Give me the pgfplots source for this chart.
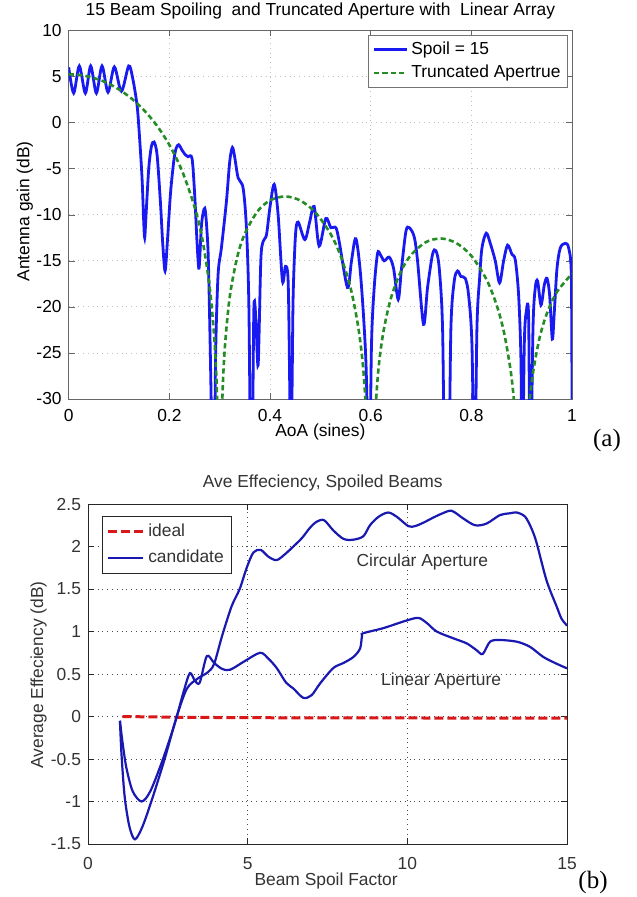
\documentclass[border=0pt]{standalone}
\usepackage{fontspec}
\setmainfont{Liberation Sans}
\newfontfamily\serifpart{Liberation Serif}
\usepackage{pgfplots}
\pgfplotsset{compat=1.18}
\newcommand{\af}{\fontsize{8.7}{10}\selectfont}
\definecolor{topblue}{rgb}{0.1,0.1,0.95}
\definecolor{botblue}{rgb}{0.1,0.1,0.7}
\definecolor{mgreen}{rgb}{0.15,0.55,0.15}
\definecolor{mred}{rgb}{0.85,0.1,0.1}
\begin{document}
\begin{tikzpicture}
\path[use as bounding box] (0pt,0pt) rectangle (318pt,-448.5pt);

% (a) antenna gain
\begin{axis}[
 at={(34.35pt,-199.5pt)}, anchor=south west,
 scale only axis, width=251.65pt, height=184.25pt,
 xmin=0, xmax=1, ymin=-30, ymax=10,
 xtick={0,0.2,0.4,0.6,0.8,1},
 ytick={-30,-25,-20,-15,-10,-5,0,5,10},
 /pgf/number format/assume math mode=true,
 tick label style={font=\af},
 xticklabel style={yshift=-1.5pt},
 grid=major,
 major grid style={gray!50,dotted,line width=0.4pt},
 axis line style={black!60},
 tick style={black!60}, major tick length=3pt,
 every axis title shift=0pt,
 title={15 Beam Spoiling\ \ and Truncated Aperture with\ \ Linear Array},
 title style={at={(axis description cs:0.5,1.053)},anchor=center,yshift=0pt,font=\af},
 xlabel={AoA (sines)},
 xlabel style={at={(axis description cs:0.5,-0.09)},anchor=center,font=\af},
 ylabel={Antenna gain (dB)},
 ylabel style={at={(axis description cs:-0.087,0.509)},anchor=center,rotate=0,font=\af},
 legend cell align=left,
 legend image code/.code={\draw[#1] (0pt,0pt) -- (16.5pt,0pt);},
 legend style={at={(0.992,0.988)}, anchor=north east, draw=black!55,
   inner xsep=2pt, inner ysep=1.5pt, row sep=0pt, font=\af,
   nodes={inner sep=1.5pt, text height=6.5pt, text depth=2pt}},
]
\addplot[topblue, line width=1.4pt, smooth] coordinates {
(0,6.0) (0.0099,3.2) (0.0211,6.15) (0.0331,3.2) (0.0437,6.15) (0.0550,3.2)
(0.0662,6.15) (0.0781,3.3) (0.0907,6.05) (0.1047,3.4) (0.1192,6.15) (0.1272,4.8)
(0.1358,1.9) (0.1404,-1.3) (0.1457,-6.0) (0.1490,-10.7) (0.1510,-12.5) (0.1537,-10.0)
(0.1590,-5.0) (0.1643,-2.6) (0.1696,-2.1) (0.1756,-3.5) (0.1822,-8.6) (0.1869,-13.2)
(0.1915,-16.1) (0.1961,-12.9) (0.2021,-7.8) (0.2087,-4.2) (0.2134,-2.8) (0.2186,-2.4)
(0.2253,-3.0) (0.2319,-3.5) (0.2372,-3.7) (0.2451,-3.9) (0.2505,-8.0) (0.2550,-13.0)
(0.2590,-15.8) (0.2640,-11.0) (0.2704,-9.3) (0.2750,-12.0) (0.2780,-16.0) (0.2830,-30.0)
(0.2849,-40) (0.2889,-40) (0.2920,-25.0) (0.2968,-16.5) (0.3034,-13.6) (0.3133,-8.6)
(0.3200,-4.2) (0.3253,-2.7) (0.3300,-3.8) (0.3366,-6.0) (0.3465,-7.1) (0.3531,-11.4)
(0.3580,-20.0) (0.3618,-40) (0.3644,-40) (0.3678,-20.5) (0.3718,-21.2) (0.3764,-26.3)
(0.3817,-15.0) (0.3863,-12.9) (0.3929,-12.2) (0.3996,-9.3) (0.4082,-6.7) (0.4161,-10.0)
(0.4247,-17.2) (0.4307,-15.6) (0.4360,-17.2) (0.4390,-28.0) (0.4414,-40) (0.4440,-28.0)
(0.4460,-18.7) (0.4506,-12.2) (0.4559,-10.8) (0.4692,-12.7) (0.4791,-10.7) (0.4877,-9.1)
(0.4976,-13.4) (0.5109,-10.4) (0.5209,-11.4) (0.5308,-11.4) (0.5374,-12.9) (0.5539,-17.9)
(0.5619,-15.0) (0.5706,-12.6) (0.5805,-16.9) (0.5905,-25.9) (0.5971,-40) (0.6016,-24.1)
(0.6070,-17.9) (0.6136,-14.2) (0.6189,-14.3) (0.6269,-15.0) (0.6368,-14.6) (0.6454,-15.8)
(0.6547,-19.2) (0.6613,-15.8) (0.6700,-11.8) (0.6766,-11.4) (0.6865,-12.4) (0.6931,-15.0)
(0.7050,-21.9) (0.7130,-17.9) (0.7229,-14.3) (0.7296,-13.9) (0.7362,-15.8) (0.7428,-22.3)
(0.7475,-40) (0.7547,-40) (0.7594,-22.3) (0.7660,-17.2) (0.7726,-16.1) (0.7793,-16.7)
(0.7879,-16.9) (0.7945,-18.7) (0.8012,-24.1) (0.8064,-40) (0.8111,-22.3) (0.8164,-16.9)
(0.8211,-13.6) (0.8296,-12.0) (0.8376,-13.1) (0.8475,-15.0) (0.8561,-17.4) (0.8641,-15.0)
(0.8720,-13.3) (0.8807,-14.3) (0.8873,-14.9) (0.8939,-18.7) (0.8986,-25.9) (0.9012,-40)
(0.9052,-24.1) (0.9092,-20.5) (0.9138,-21.2) (0.9171,-40) (0.9225,-22.3) (0.9271,-17.9)
(0.9317,-17.2) (0.9384,-19.8) (0.9450,-17.6) (0.9503,-16.9) (0.9555,-18.7) (0.9609,-23.5)
(0.9649,-20.5) (0.9702,-15.8) (0.9768,-13.6) (0.9867,-13.1) (0.9933,-13.6) (0.9986,-16.5)
(1.0,-30)};
\addlegendentry{Spoil = 15}
\addplot[mgreen, line width=1.3pt, smooth, dash pattern=on 2.6pt off 1.6pt] coordinates {
(0,5.25) (0.025,5.15) (0.05,4.85) (0.075,4.34) (0.1,3.60) (0.125,2.61) (0.15,1.33)
(0.175,-0.31) (0.2,-2.42) (0.225,-5.2) (0.25,-9.13) (0.265,-12.5) (0.28,-17.8)
(0.29,-24.0) (0.295,-30.2) (0.298,-40)};
\addlegendentry{Truncated Apertrue}
\addplot[mgreen, line width=1.3pt, smooth, dash pattern=on 2.6pt off 1.6pt, forget plot] coordinates {
(0.302,-40) (0.305,-30.5) (0.31,-24.6) (0.32,-18.9) (0.335,-14.56) (0.35,-12.05)
(0.375,-9.64) (0.4,-8.44) (0.43,-8.01) (0.46,-8.45) (0.49,-9.74) (0.52,-12.05)
(0.54,-14.42) (0.56,-17.93) (0.575,-22.1) (0.585,-26.6) (0.593,-33.3) (0.597,-40)};
\addplot[mgreen, line width=1.3pt, smooth, dash pattern=on 2.6pt off 1.6pt, forget plot] coordinates {
(0.603,-40) (0.607,-33.5) (0.615,-27.0) (0.625,-22.8) (0.64,-19.09) (0.66,-16.16)
(0.68,-14.38) (0.71,-12.96) (0.74,-12.58) (0.77,-13.07) (0.8,-14.46) (0.83,-17.02)
(0.85,-19.76) (0.865,-22.8) (0.88,-27.7) (0.89,-33.8) (0.896,-40)};
\addplot[mgreen, line width=1.3pt, smooth, dash pattern=on 2.6pt off 1.6pt, forget plot] coordinates {
(0.904,-40) (0.91,-33.95) (0.92,-28.1) (0.935,-23.5) (0.95,-20.73) (0.97,-18.38)
(1.0,-16.4)};
\end{axis}

% (b) average efficiency
\begin{axis}[
 at={(44pt,-422pt)}, anchor=south west,
 scale only axis, width=239.5pt, height=170pt,
 xmin=0, xmax=15, ymin=-1.5, ymax=2.5,
 xtick={0,5,10,15},
 ytick={-1.5,-1,-0.5,0,0.5,1,1.5,2,2.5},
 /pgf/number format/assume math mode=true,
 tick label style={font=\af, black!80},
 xticklabel style={yshift=-3pt},
 grid=major,
 major grid style={black!70,dotted,line width=0.5pt},
 axis line style={black!85},
 tick style={black!85}, major tick length=3pt,
 every axis title shift=0pt,
 title={Ave Effeciency, Spoiled Beams},
 title style={at={(axis description cs:0.49,1.062)},anchor=center,yshift=0pt,font=\af,black!80},
 xlabel={Beam Spoil Factor},
 xlabel style={at={(axis description cs:0.497,-0.109)},anchor=center,font=\af,black!80},
 ylabel={Average Effeciency (dB)},
 ylabel style={at={(axis description cs:-0.103,0.497)},anchor=center,font=\af,black!80},
 legend cell align=left,
 legend image code/.code={\draw[#1] (0pt,0pt) -- (17.5pt,0pt);},
 legend style={at={(0.029,0.965)}, anchor=north west, draw=black!85,
   inner xsep=2pt, inner ysep=1pt, row sep=0pt, font=\af, text=black!80,
   nodes={inner sep=2pt, text height=7pt, text depth=2.3pt}},
]
\addplot[mred, line width=1.5pt, dash pattern=on 4.5pt off 2pt] coordinates {
(1.08,0.0) (3,-0.01) (6,-0.015) (9,-0.015) (12,-0.02) (15,-0.02)};
\addlegendentry{ideal}
\addplot[botblue, line width=1.1pt, smooth] coordinates {
(1.0,-0.05) (1.05,-0.45) (1.15,-0.95) (1.3,-1.3) (1.47,-1.445) (1.7,-1.3) (2.0,-0.98)
(2.4,-0.5) (2.78,0.0) (3.1,0.33) (3.45,0.45) (3.75,0.52) (3.95,0.62) (4.2,0.95)
(4.5,1.3) (4.75,1.5) (4.97,1.75) (5.18,1.93) (5.41,1.96) (5.65,1.88) (5.91,1.84)
(6.2,1.92) (6.43,2.0) (6.7,2.1) (6.95,2.22) (7.15,2.29) (7.39,2.31) (7.68,2.19)
(8.0,2.09) (8.3,2.08) (8.62,2.12) (8.83,2.25) (9.1,2.35) (9.40,2.40) (9.67,2.35)
(10.03,2.24) (10.24,2.24) (10.5,2.28) (10.81,2.34) (11.1,2.39) (11.39,2.42) (11.75,2.33)
(12.12,2.25) (12.48,2.27) (12.90,2.37) (13.2,2.39) (13.43,2.40) (13.69,2.35) (13.89,2.21)
(14.05,2.04) (14.36,1.60) (14.68,1.29) (14.83,1.15) (15.0,1.07)};
\addlegendentry{candidate}
\addplot[botblue, line width=1.1pt, smooth, forget plot] coordinates {
(1.0,-0.05) (1.08,-0.3) (1.2,-0.6) (1.4,-0.88) (1.68,-1.0) (1.95,-0.88) (2.3,-0.55)
(2.6,-0.22) (2.78,0.0) (3.0,0.3) (3.19,0.51) (3.35,0.42) (3.5,0.40) (3.72,0.71)
(3.95,0.63) (4.2,0.56) (4.45,0.55) (4.9,0.65) (5.39,0.75) (5.65,0.68) (5.91,0.57)
(6.2,0.4) (6.43,0.33) (6.74,0.22) (7.0,0.25) (7.27,0.39) (7.68,0.57) (8.0,0.63)
(8.31,0.70) (8.52,0.80) (8.58,0.95) (8.62,0.98) (9.25,1.04) (9.98,1.13) (10.35,1.16)
(10.61,1.10) (10.92,1.0) (11.44,0.92) (11.86,0.86) (12.17,0.78) (12.36,0.735)
(12.59,0.88) (12.90,0.90) (13.43,0.88) (13.84,0.82) (14.26,0.70) (14.68,0.62) (15.0,0.567)};
\node[font=\af, text=black!80] at (axis cs:10.47,1.82) {Circular Aperture};
\node[font=\af, text=black!80] at (axis cs:11.06,0.42) {Linear Aperture};
\end{axis}

\node[font=\serifpart\fontsize{12.5}{14}\selectfont] at (303.5pt,-220pt) {(a)};
\node[font=\serifpart\fontsize{12.5}{14}\selectfont] at (296.5pt,-441pt) {(b)};
\end{tikzpicture}
\end{document}
